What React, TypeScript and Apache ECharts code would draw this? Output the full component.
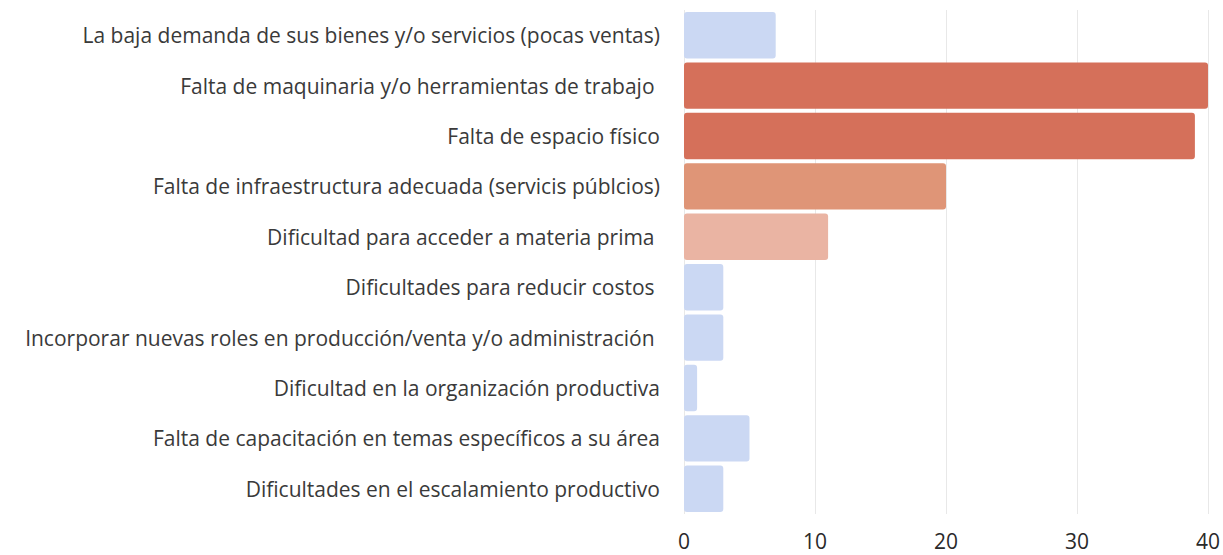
import React, { useEffect, useRef } from "react";
import * as echarts from "echarts";

const categories: string[] = [
  "La baja demanda de sus bienes y/o servicios (pocas ventas)",
  "Falta de maquinaria y/o herramientas de trabajo ",
  "Falta de espacio físico",
  "Falta de infraestructura adecuada (servicis públcios)",
  "Dificultad para acceder a materia prima ",
  "Dificultades para reducir costos ",
  "Incorporar nuevas roles en producción/venta y/o administración ",
  "Dificultad en la organización productiva",
  "Falta de capacitación en temas específicos a su área",
  "Dificultades en el escalamiento productivo",
];

const values: number[] = [7, 40, 39, 20, 11, 3, 3, 1, 5, 3];

const barColors: string[] = [
  "#cbd8f3",
  "#d5705a",
  "#d5705a",
  "#df9577",
  "#eab4a3",
  "#cbd8f3",
  "#cbd8f3",
  "#cbd8f3",
  "#cbd8f3",
  "#cbd8f3",
];

const xTicks: number[] = [0, 10, 20, 30, 40];

export default function App() {
  const ref = useRef<HTMLDivElement>(null);
  useEffect(() => {
    if (!ref.current) return;
    const chart = echarts.init(ref.current, null, { renderer: "svg" });
    chart.setOption({
      animation: false,
      backgroundColor: "#ffffff",
      grid: { left: 684, right: 15, top: 10, bottom: 41, containLabel: false },
      xAxis: {
        type: "value",
        min: xTicks[0],
        max: xTicks[xTicks.length - 1],
        interval: 10,
        axisLine: { show: false },
        axisTick: { show: false },
        splitLine: { show: true, lineStyle: { color: "#e8e8e8", width: 1 } },
        axisLabel: {
          color: "#2a2a2a",
          fontSize: 21,
          fontFamily: "Open Sans",
          fontWeight: 500,
          margin: 16,
        },
      },
      yAxis: {
        type: "category",
        inverse: true,
        data: categories,
        axisLine: { show: false },
        axisTick: { show: false },
        axisLabel: {
          color: "#3a3a3a",
          fontSize: 21,
          fontFamily: "Open Sans",
          margin: 24,
        },
      },
      series: [
        {
          type: "bar",
          data: values.map((v, i) => ({ value: v, itemStyle: { color: barColors[i] } })),
          barCategoryGap: "8%",
          itemStyle: { borderRadius: 3 },
        },
      ],
    });
    return () => chart.dispose();
  }, []);
  return <div ref={ref} style={{ width: 1223, height: 555, position: "absolute", left: 0, top: 0 }} />;
}
